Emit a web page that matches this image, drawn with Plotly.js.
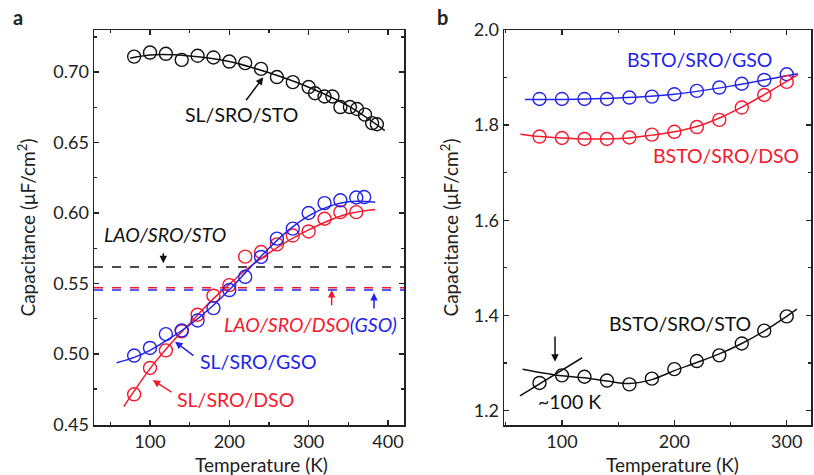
<!DOCTYPE html>
<html><head><meta charset="utf-8">
<script src="https://cdn.plot.ly/plotly-3.0.1.min.js"></script>
<style>html,body{margin:0;padding:0;background:#fff;}#plot{width:814px;height:475px;}</style>
</head><body><div id="plot"></div>
<script>
// Panel a data
const slStoT = [80,100,120,140,160,180,200,220,240,260,280,300,308,320,330,340,352,361,371,380,386];
const slStoC = [0.711,0.7139,0.713,0.7087,0.7116,0.7104,0.7075,0.7064,0.7023,0.6965,0.6929,0.6894,0.685,0.6827,0.6827,0.6752,0.6752,0.6738,0.6698,0.6638,0.663];
const slStoFitT = [75,100,150,200,250,300,350,396];
const slStoFitC = [0.7098,0.7122,0.7115,0.7075,0.6995,0.6893,0.676,0.6585];

const slGsoT = [80,100,120,140,160,180,200,220,240,260,280,300,320,340,360,370];
const slGsoC = [0.4988,0.5042,0.514,0.5167,0.5237,0.5325,0.5453,0.5547,0.5688,0.5818,0.5889,0.600,0.607,0.609,0.611,0.6113];
const slGsoFitT = [58,80,100,125,150,175,200,225,250,275,300,325,350,384];
const slGsoFitC = [0.4937,0.4975,0.5025,0.511,0.5205,0.532,0.5455,0.5605,0.575,0.588,0.598,0.6045,0.608,0.6077];

const slDsoT = [80,100,120,140,160,180,200,220,240,260,280,300,320,340,360];
const slDsoC = [0.4713,0.490,0.5025,0.516,0.5278,0.5413,0.5488,0.569,0.5723,0.5777,0.584,0.5869,0.5959,0.6006,0.6006];
const slDsoFitT = [67,80,100,125,150,175,200,225,250,275,300,325,350,384];
const slDsoFitC = [0.4626,0.4735,0.4895,0.5065,0.5215,0.5365,0.5495,0.5615,0.5715,0.5805,0.588,0.5945,0.5995,0.6025];

const dashT = [29.4,420.2];
const laoSto = 0.5617, laoDso = 0.5469, laoGso = 0.5453;

// Panel b data
const bT = [80,100,120,140,160,180,200,220,240,260,280,300];
const bstoGso = [1.855,1.855,1.855,1.855,1.858,1.860,1.865,1.872,1.879,1.887,1.895,1.907];
const bstoGsoFitT = [67,100,150,200,250,300,310];
const bstoGsoFitC = [1.854,1.854,1.857,1.865,1.882,1.904,1.908];
const bstoDso = [1.776,1.773,1.771,1.771,1.774,1.780,1.786,1.796,1.811,1.837,1.8635,1.891];
const bstoDsoFitT = [63,80,100,120,140,160,180,200,220,240,260,280,300,310];
const bstoDsoFitC = [1.781,1.776,1.773,1.771,1.771,1.773,1.779,1.786,1.797,1.815,1.838,1.864,1.892,1.906];
const bstoSto = [1.258,1.274,1.271,1.263,1.255,1.267,1.287,1.304,1.316,1.341,1.368,1.398];
const bstoStoFitT = [65,100,120,140,160,180,200,220,240,260,280,300,309];
const bstoStoFitC = [1.287,1.273,1.269,1.262,1.257,1.265,1.284,1.301,1.319,1.341,1.367,1.398,1.413];
const kinkT = [62.6,118];
const kinkC = [1.231,1.311];

const BLUE = 'rgb(35,35,235)', RED = 'rgb(245,25,45)', BLACK = '#111';
const FONT = 'Lato, "Open Sans", sans-serif';

function pts(x,y,c,xa,ya){return {x:x,y:y,xaxis:xa,yaxis:ya,mode:'markers',type:'scatter',
  marker:{symbol:'circle-open',size:13,color:c,line:{width:1.4,color:c}},hoverinfo:'skip'};}
function ln(x,y,c,xa,ya,dash){return {x:x,y:y,xaxis:xa,yaxis:ya,mode:'lines',type:'scatter',
  line:{color:c,width:1.5,dash:dash||'solid',shape:dash?'linear':'spline'},hoverinfo:'skip'};}

const traces = [
  ln(dashT,[laoSto,laoSto],BLACK,'x','y','dash'),
  ln(dashT,[laoDso,laoDso],RED,'x','y','dash'),
  ln(dashT,[laoGso,laoGso],BLUE,'x','y','dash'),
  ln(slStoFitT,slStoFitC,BLACK,'x','y'),
  pts(slStoT,slStoC,BLACK,'x','y'),
  ln(slDsoFitT,slDsoFitC,RED,'x','y'),
  pts(slDsoT,slDsoC,RED,'x','y'),
  ln(slGsoFitT,slGsoFitC,BLUE,'x','y'),
  pts(slGsoT,slGsoC,BLUE,'x','y'),
  ln(bstoGsoFitT,bstoGsoFitC,BLUE,'x2','y2'),
  pts(bT,bstoGso,BLUE,'x2','y2'),
  ln(bstoDsoFitT,bstoDsoFitC,RED,'x2','y2'),
  pts(bT,bstoDso,RED,'x2','y2'),
  ln(bstoStoFitT,bstoStoFitC,BLACK,'x2','y2'),
  {x:kinkT,y:kinkC,xaxis:'x2',yaxis:'y2',mode:'lines',type:'scatter',line:{color:BLACK,width:1.5},hoverinfo:'skip'},
  pts(bT,bstoSto,BLACK,'x2','y2')
];

const axBase = {showline:true,linecolor:'#222',linewidth:1.5,mirror:'ticks',ticks:'inside',ticklen:5,tickwidth:1.3,tickcolor:'#222',
  showgrid:false,zeroline:false,automargin:false,tickfont:{family:FONT,size:18,color:'#222'},
  title:{font:{family:FONT,size:19,color:'#222'}}};
function ax(o){return Object.assign({},JSON.parse(JSON.stringify(axBase)),o);}

const TS = 19.5;
function arr(x,y,ax_,ay_,c,xr,yr){return {x:x,y:y,ax:ax_,ay:ay_,axref:xr,ayref:yr,xref:xr,yref:yr,text:'',showarrow:true,
  arrowhead:2,arrowsize:1,arrowwidth:1.5,arrowcolor:c};}
function txt(x,y,t,c,xr,yr,italic){return {x:x,y:y,xref:xr,yref:yr,text:italic?'<i>'+t+'</i>':t,showarrow:false,
  xanchor:'center',yanchor:'middle',font:{family:FONT,size:TS,color:c}};}
function ptxt(px,py,t,size){return {x:px/814,y:1-py/475,xref:'paper',yref:'paper',text:t,showarrow:false,
  xanchor:'center',yanchor:'middle',font:{family:FONT,size:size,color:'#222'}};}

const annotations = [
  ptxt(18,17,'<b>a</b>',20),
  ptxt(442,17,'<b>b</b>',20),
  ptxt(261,464,'Temperature (K)',19),
  ptxt(672,464,'Temperature (K)',19),
  txt(215.6,0.6696,'SL/SRO/STO',BLACK,'x','y'),
  arr(242.8,0.6963,219.7,0.679,BLACK,'x','y'),
  txt(118.9,0.5844,'LAO/SRO/STO',BLACK,'x','y',true),
  arr(116.8,0.5643,116.8,0.5725,BLACK,'x','y'),
  {x:302.9,y:0.5205,xref:'x',yref:'y',showarrow:false,xanchor:'center',yanchor:'middle',
   text:'<i>LAO/SRO/DSO<span style="color:'+BLUE+'">(GSO)</span></i>',
   font:{family:FONT,size:TS,color:RED}},
  arr(329,0.5453,329,0.5335,RED,'x','y'),
  arr(382.4,0.5432,382.4,0.5311,BLUE,'x','y'),
  txt(236.5,0.4944,'SL/SRO/GSO',BLUE,'x','y'),
  arr(131.5,0.5086,156.7,0.498,BLUE,'x','y'),
  txt(207.8,0.4679,'SL/SRO/DSO',RED,'x','y'),
  arr(103.4,0.4814,129,0.4722,RED,'x','y'),
  txt(222.8,1.937,'BSTO/SRO/GSO',BLUE,'x2','y2'),
  txt(245.9,1.737,'BSTO/SRO/DSO',RED,'x2','y2'),
  txt(205,1.3834,'BSTO/SRO/STO',BLACK,'x2','y2'),
  txt(107.1,1.2186,'~100 K',BLACK,'x2','y2'),
  arr(93.8,1.3027,93.8,1.3588,BLACK,'x2','y2')
];

const layout = {
  width:814,height:475,margin:{l:0,r:0,t:0,b:0},paper_bgcolor:'#fff',plot_bgcolor:'#fff',showlegend:false,
  font:{family:FONT,color:'#222'},
  xaxis: ax({domain:[94/814,404/814],range:[29.4,420.2],tickvals:[100,200,300,400],anchor:'y',
    minor:{ticks:'inside',tickvals:[50,150,250,350],ticklen:3,tickcolor:'#222',tickwidth:1.2}}),
  yaxis: ax({domain:[50/475,445/475],range:[0.4495,0.7299],tickvals:[0.45,0.5,0.55,0.6,0.65,0.7],tickformat:'.2f',anchor:'x',
    minor:{ticks:'inside',tickvals:[0.475,0.525,0.575,0.625,0.675,0.725],ticklen:3,tickcolor:'#222',tickwidth:1.2},
    title:{text:'Capacitance (μF/cm<sup>2</sup>)',standoff:12,font:{family:FONT,size:19,color:'#222'}}}),
  xaxis2: ax({domain:[504/814,811/814],range:[48.4,321.6],tickvals:[100,200,300],anchor:'y2',
    minor:{ticks:'inside',tickvals:[50,150,250],ticklen:3,tickcolor:'#222',tickwidth:1.2}}),
  yaxis2: ax({domain:[50/475,445/475],range:[1.1696,2.0],tickvals:[1.2,1.4,1.6,1.8,2.0],tickformat:'.1f',anchor:'x2',
    minor:{ticks:'inside',tickvals:[1.3,1.5,1.7,1.9],ticklen:3,tickcolor:'#222',tickwidth:1.2},
    title:{text:'Capacitance (μF/cm<sup>2</sup>)',standoff:10,font:{family:FONT,size:19,color:'#222'}}}),
  annotations:annotations
};
Plotly.newPlot('plot',traces,layout,{staticPlot:true,displayModeBar:false});
</script></body></html>
